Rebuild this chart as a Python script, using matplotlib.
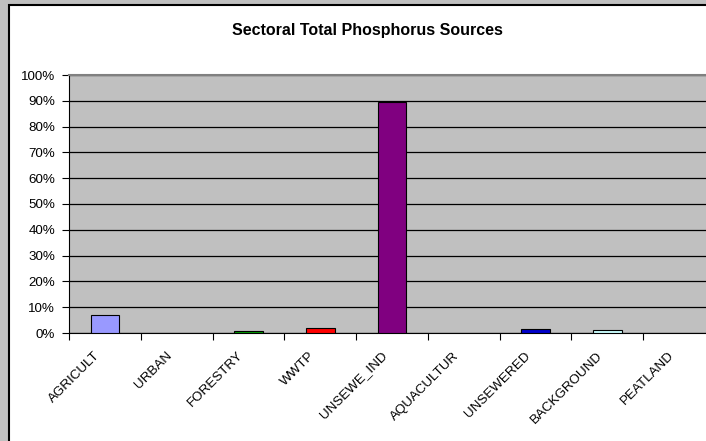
import matplotlib
matplotlib.use("Agg")
import matplotlib.pyplot as plt
import matplotlib.patches as patches
import matplotlib.transforms as mtransforms
from matplotlib.ticker import FixedLocator, PercentFormatter

categories = ["AGRICULT", "URBAN", "FORESTRY", "WWTP", "UNSEWE_IND",
              "AQUACULTUR", "UNSEWERED", "BACKGROUND", "PEATLAND"]
shares = [0.070, 0.0, 0.009, 0.020, 0.897, 0.0, 0.014, 0.013, 0.0]
colors = ["#9999ff", "#ffffff", "#00a000", "#ff0000", "#800080",
          "#ffffff", "#0000cc", "#ccffff", "#ffffff"]
yticks = [0.0, 0.1, 0.2, 0.3, 0.4, 0.5, 0.6, 0.7, 0.8, 0.9, 1.0]

W, H = 706, 441
plt.rcParams['font.family'] = ['Liberation Sans', 'DejaVu Sans']

fig = plt.figure(figsize=(W / 100, H / 100), dpi=100)
fig.patch.set_facecolor("#c0c0c0")

# white chart area, runs off the right and bottom edges like the screenshot
fig.patches.append(patches.Rectangle((8.5 / W, -20 / H), 760 / W, (H - 5 + 20) / H,
                                     transform=fig.transFigure,
                                     facecolor="white", edgecolor="black",
                                     linewidth=1.5, zorder=-1))

fig.text(367 / W, 1 - 30 / H, "Sectoral Total Phosphorus Sources",
         ha="center", va="center", fontsize=11.5, fontweight="bold")

left, right, top, bottom = 69, 715, 75, 333
ax = fig.add_axes([left / W, 1 - bottom / H, (right - left) / W, (bottom - top) / H])
ax.set_facecolor("#c0c0c0")

x = list(range(len(categories)))
for xi, v, c in zip(x, shares, colors):
    if v > 0:
        ax.bar(xi, v, width=0.4, color=c, edgecolor="black", linewidth=0.8,
               zorder=3)

ax.set_xlim(-0.5, len(categories) - 0.5)
ax.set_ylim(0, 1.0)
ax.yaxis.set_major_locator(FixedLocator(yticks))
ax.yaxis.set_major_formatter(PercentFormatter(1.0, decimals=0))
ax.grid(axis="y", color="black", linewidth=0.9, zorder=1)
ax.set_axisbelow(True)

ax.xaxis.set_major_locator(FixedLocator([i - 0.5 for i in range(len(categories) + 1)]))
ax.xaxis.set_major_formatter(plt.NullFormatter())
ax.xaxis.set_minor_locator(FixedLocator(x))
ax.set_xticklabels(categories, minor=True, rotation=45, ha="right",
                   va="center", rotation_mode="anchor", fontsize=9.6)
ax.tick_params(axis="x", which="minor", length=0, pad=15)
ax.tick_params(axis="x", which="major", length=5, width=0.8, direction="out")
ax.tick_params(axis="y", length=5, width=0.8, direction="out", labelsize=9.6, pad=5)

shift = mtransforms.ScaledTranslation(-7 / 100, 0, fig.dpi_scale_trans)
for lab in ax.get_xticklabels(minor=True):
    lab.set_transform(lab.get_transform() + shift)

ax.spines["top"].set_color("#808080")
ax.spines["top"].set_linewidth(1.5)
ax.spines["left"].set_linewidth(0.8)
ax.spines["bottom"].set_linewidth(0.8)
ax.spines["right"].set_visible(False)

fig.savefig("out.png", dpi=100, facecolor=fig.get_facecolor())
